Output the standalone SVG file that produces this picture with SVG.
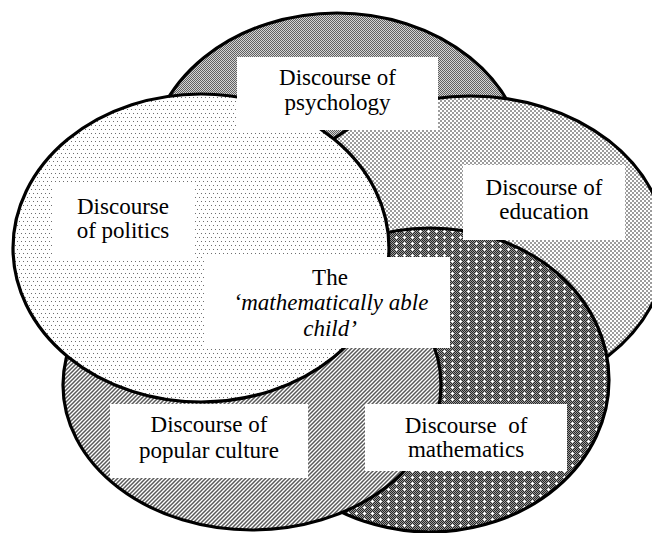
<svg xmlns="http://www.w3.org/2000/svg" width="652" height="533" viewBox="0 0 652 533">
  <defs>
    <!-- fill textures for the five discourse regions -->
    <pattern id="pat-psych" width="2" height="2" patternUnits="userSpaceOnUse">
      <rect width="2" height="2" fill="#d4d4d4"/>
      <rect x="0" y="0" width="1" height="1" fill="#606060"/>
      <rect x="1" y="1" width="1" height="1" fill="#606060"/>
    </pattern>
    <pattern id="pat-edu" width="4" height="4" patternUnits="userSpaceOnUse">
      <rect width="4" height="4" fill="#ffffff"/>
      <rect x="0" y="0" width="2" height="2" fill="#9c9c9c"/>
      <rect x="2" y="2" width="2" height="2" fill="#9c9c9c"/>
    </pattern>
    <pattern id="pat-politics" width="4" height="8" patternUnits="userSpaceOnUse">
      <rect width="4" height="8" fill="#ffffff"/>
      <rect x="1" y="1" width="1" height="1" fill="#6e6e6e"/>
      <rect x="3" y="5" width="1" height="1" fill="#6e6e6e"/>
    </pattern>
    <pattern id="pat-popular" width="4" height="4" patternUnits="userSpaceOnUse">
      <rect width="4" height="4" fill="#ffffff"/>
      <path d="M-1,5 L5,-1 M-1,1 L1,-1 M3,5 L5,3" stroke="#5a5a5a" stroke-width="1.5"/>
    </pattern>
    <pattern id="pat-maths" width="8" height="6" patternUnits="userSpaceOnUse">
      <rect width="8" height="6" fill="#9a9a9a"/>
      <path d="M0,0.5H8 M1,1.5H9 M0,2.5H8 M1,3.5H9 M0,4.5H8 M1,5.5H9" stroke="#262626" stroke-width="1" stroke-dasharray="1 1"/>
      <rect x="3" y="3" width="3" height="1" fill="#ffffff"/>
      <rect x="4" y="2" width="1" height="3" fill="#ffffff"/>
    </pattern>
  </defs>
  <style>
    .region { stroke: #000; stroke-width: 3.2; }
    .box { fill: #ffffff; }
    .label { font-family: "Liberation Serif", "Times New Roman", serif; font-size: 23px; fill: #000; text-anchor: middle; }
    .it { font-style: italic; }
  </style>

  <rect width="652" height="533" fill="#ffffff"/>

  <!-- overlapping discourse regions, back to front -->
  <g id="psychology">
    <ellipse class="region" cx="337" cy="165" rx="188" ry="152" fill="url(#pat-psych)"/>
  </g>
  <g id="education">
    <ellipse class="region" cx="470" cy="248" rx="196" ry="152" fill="url(#pat-edu)"/>
  </g>
  <g id="mathematics">
    <ellipse class="region" cx="430" cy="380" rx="179" ry="152" fill="url(#pat-maths)"/>
  </g>
  <g id="popular-culture">
    <ellipse class="region" cx="252" cy="385" rx="189" ry="145" fill="url(#pat-popular)"/>
  </g>
  <g id="politics">
    <ellipse class="region" cx="201" cy="248" rx="188" ry="154" fill="url(#pat-politics)"/>
  </g>

  <!-- label panels -->
  <g id="psychology-label">
    <rect class="box" x="237" y="57" width="201" height="73"/>
    <text class="label" x="337.5" y="85">Discourse of</text>
    <text class="label" x="337.5" y="110">psychology</text>
  </g>
  <g id="education-label">
    <rect class="box" x="463" y="165" width="162" height="75"/>
    <text class="label" x="544" y="195">Discourse of</text>
    <text class="label" x="544" y="219">education</text>
  </g>
  <g id="politics-label">
    <rect class="box" x="52" y="183" width="143" height="75"/>
    <text class="label" x="123" y="214">Discourse</text>
    <text class="label" x="123" y="238">of politics</text>
  </g>
  <g id="child">
    <rect class="box" x="205" y="257" width="245" height="91"/>
    <text class="label" x="330" y="285">The</text>
    <text class="label it" x="331" y="310">‘mathematically able</text>
    <text class="label it" x="330" y="336">child’</text>
  </g>
  <g id="popular-culture-label">
    <rect class="box" x="110" y="404" width="198" height="74"/>
    <text class="label" x="209" y="432">Discourse of</text>
    <text class="label" x="209" y="458">popular culture</text>
  </g>
  <g id="mathematics-label">
    <rect class="box" x="365" y="404" width="202" height="67"/>
    <text class="label" x="466" y="433" xml:space="preserve">Discourse  of</text>
    <text class="label" x="466" y="457">mathematics</text>
  </g>
</svg>
